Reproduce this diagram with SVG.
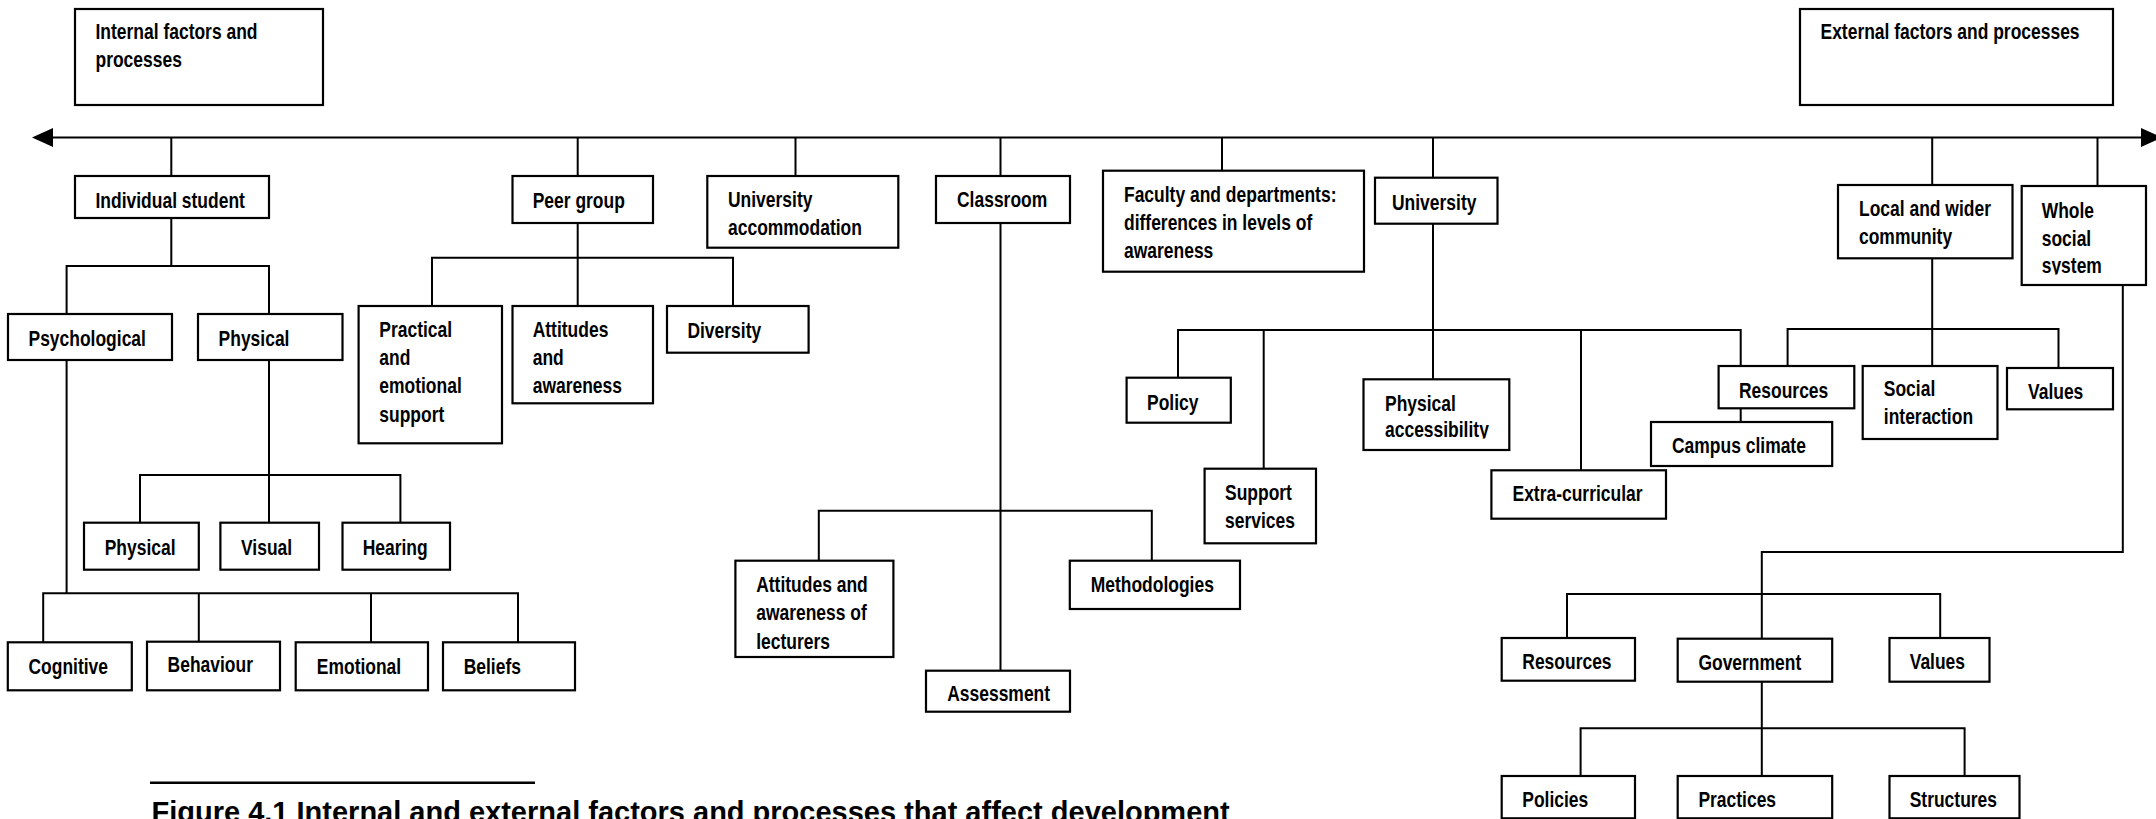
<svg xmlns="http://www.w3.org/2000/svg" width="2156" height="819" viewBox="0 0 2156 819">
  <style>
    .box { fill: #ffffff; stroke: #000000; stroke-width: 2.2; }
    .lbl { font-family: "Liberation Sans", Arial, sans-serif; font-weight: bold; font-size: 21.3px; fill: #000000; }
    .wire { fill: none; stroke: #000000; stroke-width: 2; }
    .cap { font-family: "Liberation Sans", Arial, sans-serif; font-weight: bold; font-size: 29px; fill: #000000; }
  </style>
  <defs>
    <clipPath id="clip-whole"><rect x="2021" y="186" width="125" height="88.5"/></clipPath>
    <clipPath id="clip-access"><rect x="1363" y="379" width="146" height="59.5"/></clipPath>
  </defs>
  <rect width="2156" height="819" fill="#ffffff"/>

  <!-- connectors -->
  <g id="connectors">
    <line class="wire" x1="50" y1="137.5" x2="2144" y2="137.5"/>
    <polygon points="32,137.5 53,128 53,147" fill="#000000"/>
    <polygon points="2162,137.5 2141,128 2141,147" fill="#000000"/>
    <path class="wire" d="M171.3 137.5V176 M577.7 137.5V176 M795.5 137.5V176 M1000.5 137.5V176 M1222 137.5V170.7 M1433 137.5V177.7 M1932.2 137.5V185 M2097.5 137.5V186"/>
    <!-- individual student -->
    <path class="wire" d="M171.3 218V266 M66.6 314V266H269V314"/>
    <path class="wire" d="M269 360V522.7 M140 522.7V475H400.4V522.7"/>
    <path class="wire" d="M66.6 360V593.3 M43.2 642.3V593.3H518V642.3 M198.8 593.3V641.7 M371 593.3V642.3"/>
    <!-- peer group -->
    <path class="wire" d="M577.7 223V306 M432 306V257.7H733V306"/>
    <!-- classroom -->
    <path class="wire" d="M1000.5 223V670.7 M818.8 560.7V510.7H1151.8V560.7"/>
    <!-- university -->
    <path class="wire" d="M1433 223.7V379.3 M1178 377.7V330H1740.7V366 M1263.7 330V468.7 M1581 330V470.3 M1740.7 408.3V422"/>
    <!-- community -->
    <path class="wire" d="M1932.2 258.3V366 M1787.6 366V329H2058.5V368"/>
    <!-- whole social system -->
    <path class="wire" d="M2122.8 285V552H1761.8V638.7 M1567 638V594H1940.2V638"/>
    <path class="wire" d="M1761.8 681.7V776 M1580.6 776V728.3H1964.6V776"/>
  </g>

  <!-- labels are set in a narrowed bold sans: scale(0.82,1) -->
  <g id="internal"><rect class="box" x="75" y="9" width="248" height="96"/><text class="lbl" transform="translate(95.5,39) scale(0.82,1)">Internal factors and<tspan x="0" dy="28">processes</tspan></text></g>
  <g id="external"><rect class="box" x="1800" y="9" width="313" height="96"/><text class="lbl" transform="translate(1820.5,39) scale(0.82,1)">External factors and processes</text></g>

  <g id="individual"><rect class="box" x="75" y="176" width="194" height="42"/><text class="lbl" transform="translate(95.5,208) scale(0.82,1)">Individual student</text></g>
  <g id="psychological"><rect class="box" x="8" y="314" width="164" height="46"/><text class="lbl" transform="translate(28.5,345.5) scale(0.82,1)">Psychological</text></g>
  <g id="physical"><rect class="box" x="198" y="314" width="144.5" height="46"/><text class="lbl" transform="translate(218.6,345.5) scale(0.82,1)">Physical</text></g>
  <g id="physical-impairment"><rect class="box" x="84" y="522.7" width="114.8" height="47"/><text class="lbl" transform="translate(104.7,554.5) scale(0.82,1)">Physical</text></g>
  <g id="visual"><rect class="box" x="220.4" y="522.7" width="98.6" height="47"/><text class="lbl" transform="translate(241,554.5) scale(0.82,1)">Visual</text></g>
  <g id="hearing"><rect class="box" x="342.5" y="522.7" width="107.5" height="47"/><text class="lbl" transform="translate(362.7,554.5) scale(0.82,1)">Hearing</text></g>
  <g id="cognitive"><rect class="box" x="7.8" y="642.3" width="124" height="48"/><text class="lbl" transform="translate(28.5,673.5) scale(0.82,1)">Cognitive</text></g>
  <g id="behaviour"><rect class="box" x="147" y="641.7" width="133" height="48.6"/><text class="lbl" transform="translate(167.6,672) scale(0.82,1)">Behaviour</text></g>
  <g id="emotional"><rect class="box" x="295.7" y="642.3" width="132.3" height="48"/><text class="lbl" transform="translate(316.8,673.5) scale(0.82,1)">Emotional</text></g>
  <g id="beliefs"><rect class="box" x="443" y="642.3" width="132" height="48"/><text class="lbl" transform="translate(463.7,673.5) scale(0.82,1)">Beliefs</text></g>

  <g id="peer-group"><rect class="box" x="512.5" y="176" width="140.5" height="47"/><text class="lbl" transform="translate(532.7,207.5) scale(0.82,1)">Peer group</text></g>
  <g id="practical"><rect class="box" x="358.6" y="306" width="143.4" height="137.3"/><text class="lbl" transform="translate(379.3,337) scale(0.82,1)">Practical<tspan x="0" dy="28.2">and</tspan><tspan x="0" dy="28.2">emotional</tspan><tspan x="0" dy="28.2">support</tspan></text></g>
  <g id="peer-attitudes"><rect class="box" x="512.5" y="306" width="140.5" height="97.3"/><text class="lbl" transform="translate(532.7,337) scale(0.82,1)">Attitudes<tspan x="0" dy="28.2">and</tspan><tspan x="0" dy="28.2">awareness</tspan></text></g>
  <g id="diversity"><rect class="box" x="667" y="306" width="141.6" height="46.7"/><text class="lbl" transform="translate(687.4,337.5) scale(0.82,1)">Diversity</text></g>

  <g id="accommodation"><rect class="box" x="707.3" y="176" width="191" height="71.7"/><text class="lbl" transform="translate(728,207) scale(0.82,1)">University<tspan x="0" dy="28.5">accommodation</tspan></text></g>

  <g id="classroom"><rect class="box" x="936" y="176" width="134" height="47"/><text class="lbl" transform="translate(957,207) scale(0.82,1)">Classroom</text></g>
  <g id="lecturers"><rect class="box" x="735.4" y="560.7" width="158" height="96.3"/><text class="lbl" transform="translate(756.2,592) scale(0.82,1)">Attitudes and<tspan x="0" dy="28.5">awareness of</tspan><tspan x="0" dy="28.5">lecturers</tspan></text></g>
  <g id="methodologies"><rect class="box" x="1069.8" y="560.7" width="170.2" height="48.3"/><text class="lbl" transform="translate(1090.7,592) scale(0.82,1)">Methodologies</text></g>
  <g id="assessment"><rect class="box" x="926" y="670.7" width="144" height="41"/><text class="lbl" transform="translate(947.2,701) scale(0.82,1)">Assessment</text></g>

  <g id="faculty"><rect class="box" x="1103" y="170.7" width="261" height="101"/><text class="lbl" transform="translate(1124,202) scale(0.82,1)">Faculty and departments:<tspan x="0" dy="28.2">differences in levels of</tspan><tspan x="0" dy="28.3">awareness</tspan></text></g>

  <g id="university"><rect class="box" x="1375" y="177.7" width="122.5" height="46"/><text class="lbl" transform="translate(1392,209.5) scale(0.82,1)">University</text></g>
  <g id="policy"><rect class="box" x="1126.6" y="377.7" width="104.2" height="45"/><text class="lbl" transform="translate(1147,409.5) scale(0.82,1)">Policy</text></g>
  <g id="support-services"><rect class="box" x="1204.6" y="468.7" width="111.4" height="74.6"/><text class="lbl" transform="translate(1225,500) scale(0.82,1)">Support<tspan x="0" dy="28.5">services</tspan></text></g>
  <g id="accessibility"><rect class="box" x="1363.5" y="379.3" width="145.8" height="70.7"/><g clip-path="url(#clip-access)"><text class="lbl" transform="translate(1385,410.5) scale(0.82,1)">Physical<tspan x="0" dy="26.5">accessibility</tspan></text></g></g>
  <g id="extra-curricular"><rect class="box" x="1491.4" y="470.3" width="174.6" height="48.4"/><text class="lbl" transform="translate(1512.5,500.5) scale(0.82,1)">Extra-curricular</text></g>
  <g id="campus-climate"><rect class="box" x="1651" y="422" width="181.2" height="44"/><text class="lbl" transform="translate(1672,452.7) scale(0.82,1)">Campus climate</text></g>

  <g id="community"><rect class="box" x="1838" y="185" width="174.5" height="73.3"/><text class="lbl" transform="translate(1859,215.5) scale(0.82,1)">Local and wider<tspan x="0" dy="28.5">community</tspan></text></g>
  <g id="community-resources"><rect class="box" x="1718.6" y="366" width="135.7" height="42.3"/><text class="lbl" transform="translate(1739,397.5) scale(0.82,1)">Resources</text></g>
  <g id="social-interaction"><rect class="box" x="1862.7" y="366" width="134.8" height="73"/><text class="lbl" transform="translate(1883.8,396) scale(0.82,1)">Social<tspan x="0" dy="28.5">interaction</tspan></text></g>
  <g id="community-values"><rect class="box" x="2007" y="368" width="106" height="41.3"/><text class="lbl" transform="translate(2028,399) scale(0.82,1)">Values</text></g>

  <g id="whole-system"><rect class="box" x="2021.7" y="186" width="124.3" height="99"/><g clip-path="url(#clip-whole)"><text class="lbl" transform="translate(2041.7,218.3) scale(0.82,1)">Whole<tspan x="0" dy="27.7">social</tspan><tspan x="0" dy="27.5">system</tspan></text></g></g>
  <g id="system-resources"><rect class="box" x="1501.7" y="638" width="133.3" height="42.7"/><text class="lbl" transform="translate(1522.3,669) scale(0.82,1)">Resources</text></g>
  <g id="government"><rect class="box" x="1677.7" y="638.7" width="154.5" height="43"/><text class="lbl" transform="translate(1698.4,669.5) scale(0.82,1)">Government</text></g>
  <g id="system-values"><rect class="box" x="1889.5" y="638" width="100" height="43.7"/><text class="lbl" transform="translate(1909.7,669) scale(0.82,1)">Values</text></g>
  <g id="policies"><rect class="box" x="1501.7" y="776" width="133.3" height="42.3"/><text class="lbl" transform="translate(1522.3,807) scale(0.82,1)">Policies</text></g>
  <g id="practices"><rect class="box" x="1677.7" y="776" width="154.5" height="42.3"/><text class="lbl" transform="translate(1698.4,807) scale(0.82,1)">Practices</text></g>
  <g id="structures"><rect class="box" x="1889.5" y="776" width="130" height="42.3"/><text class="lbl" transform="translate(1909.7,807) scale(0.82,1)">Structures</text></g>

  <g id="caption">
    <line x1="150" y1="782.7" x2="535" y2="782.7" stroke="#000000" stroke-width="2.5"/>
    <text class="cap" x="151.5" y="822">Figure 4.1 Internal and external factors and processes that affect development</text>
  </g>
</svg>
